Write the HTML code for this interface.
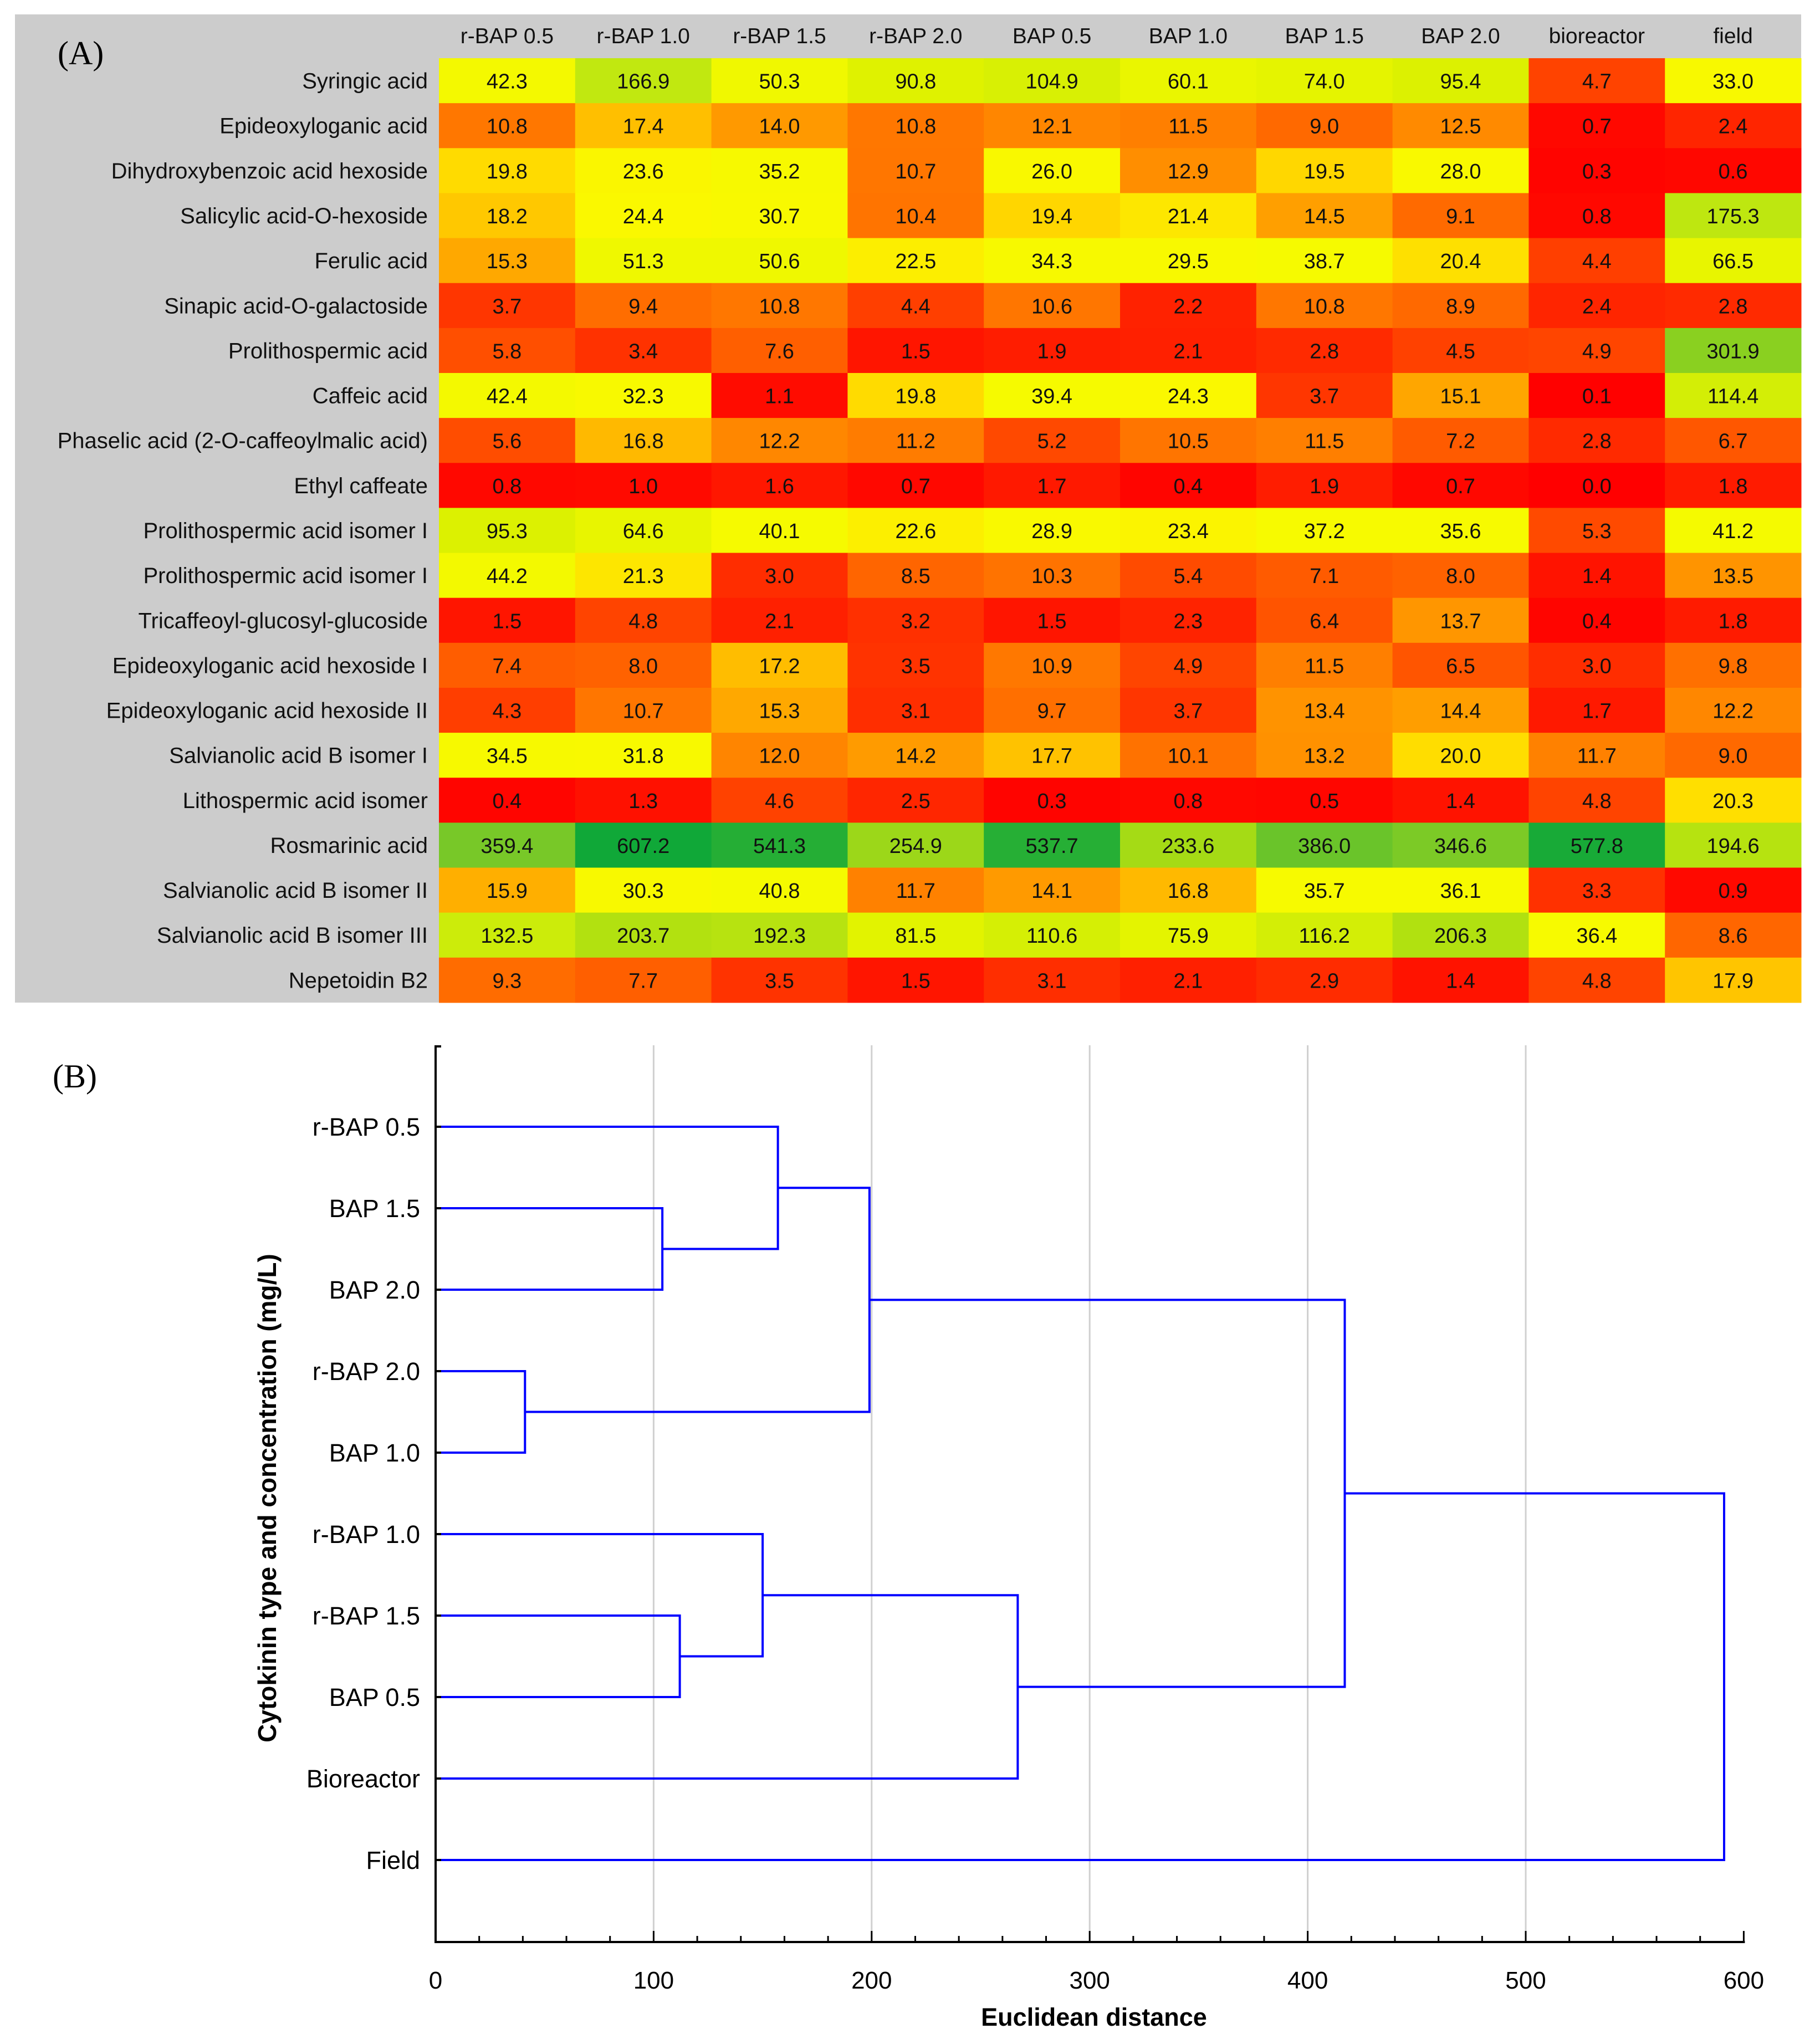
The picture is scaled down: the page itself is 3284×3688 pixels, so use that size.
<!DOCTYPE html>
<html><head><meta charset="utf-8"><style>
html,body{margin:0;padding:0;background:#fff;}
svg{display:block;font-family:"Liberation Sans",Arial,sans-serif;}
</style></head><body>
<svg id="fig" width="3284" height="3688" viewBox="0 0 3284 3688" xmlns="http://www.w3.org/2000/svg">
<rect x="27" y="26" width="3223" height="1783" fill="#cccccc"/>
<text x="104" y="116" font-family="Liberation Serif,serif" font-size="60" fill="#000">(A)</text>
<g id="heat"></g>
<text x="95" y="1962" font-family="Liberation Serif,serif" font-size="60" fill="#000">(B)</text>
<g id="grid"></g>
<g id="dendro"></g>
<g id="axes"></g>
<text transform="translate(498,2703) rotate(-90)" text-anchor="middle" font-size="46" font-weight="bold" fill="#000">Cytokinin type and concentration (mg/L)</text>
<text x="1974" y="3655" text-anchor="middle" font-size="45" font-weight="bold" fill="#000">Euclidean distance</text>
</svg>
<script>
const columns = ["r-BAP 0.5","r-BAP 1.0","r-BAP 1.5","r-BAP 2.0","BAP 0.5","BAP 1.0","BAP 1.5","BAP 2.0","bioreactor","field"];
const compounds = ["Syringic acid","Epideoxyloganic acid","Dihydroxybenzoic acid hexoside","Salicylic acid-O-hexoside","Ferulic acid","Sinapic acid-O-galactoside","Prolithospermic acid","Caffeic acid","Phaselic acid (2-O-caffeoylmalic acid)","Ethyl caffeate","Prolithospermic acid isomer I","Prolithospermic acid isomer I","Tricaffeoyl-glucosyl-glucoside","Epideoxyloganic acid hexoside I","Epideoxyloganic acid hexoside II","Salvianolic acid B isomer I","Lithospermic acid isomer","Rosmarinic acid","Salvianolic acid B isomer II","Salvianolic acid B isomer III","Nepetoidin B2"];
const values = [
[42.3,166.9,50.3,90.8,104.9,60.1,74.0,95.4,4.7,33.0],
[10.8,17.4,14.0,10.8,12.1,11.5,9.0,12.5,0.7,2.4],
[19.8,23.6,35.2,10.7,26.0,12.9,19.5,28.0,0.3,0.6],
[18.2,24.4,30.7,10.4,19.4,21.4,14.5,9.1,0.8,175.3],
[15.3,51.3,50.6,22.5,34.3,29.5,38.7,20.4,4.4,66.5],
[3.7,9.4,10.8,4.4,10.6,2.2,10.8,8.9,2.4,2.8],
[5.8,3.4,7.6,1.5,1.9,2.1,2.8,4.5,4.9,301.9],
[42.4,32.3,1.1,19.8,39.4,24.3,3.7,15.1,0.1,114.4],
[5.6,16.8,12.2,11.2,5.2,10.5,11.5,7.2,2.8,6.7],
[0.8,1.0,1.6,0.7,1.7,0.4,1.9,0.7,0.0,1.8],
[95.3,64.6,40.1,22.6,28.9,23.4,37.2,35.6,5.3,41.2],
[44.2,21.3,3.0,8.5,10.3,5.4,7.1,8.0,1.4,13.5],
[1.5,4.8,2.1,3.2,1.5,2.3,6.4,13.7,0.4,1.8],
[7.4,8.0,17.2,3.5,10.9,4.9,11.5,6.5,3.0,9.8],
[4.3,10.7,15.3,3.1,9.7,3.7,13.4,14.4,1.7,12.2],
[34.5,31.8,12.0,14.2,17.7,10.1,13.2,20.0,11.7,9.0],
[0.4,1.3,4.6,2.5,0.3,0.8,0.5,1.4,4.8,20.3],
[359.4,607.2,541.3,254.9,537.7,233.6,386.0,346.6,577.8,194.6],
[15.9,30.3,40.8,11.7,14.1,16.8,35.7,36.1,3.3,0.9],
[132.5,203.7,192.3,81.5,110.6,75.9,116.2,206.3,36.4,8.6],
[9.3,7.7,3.5,1.5,3.1,2.1,2.9,1.4,4.8,17.9]];
const leaves = ["r-BAP 0.5","BAP 1.5","BAP 2.0","r-BAP 2.0","BAP 1.0","r-BAP 1.0","r-BAP 1.5","BAP 0.5","Bioreactor","Field"];
const mergeA = [3,1,6,5,0,14,13,15,17];
const mergeB = [4,2,7,12,11,10,8,16,9];
const mergeH = [41,104,112,150,157,199,267,417,591];
const xTicks = [0,100,200,300,400,500,600];

const NS="http://www.w3.org/2000/svg";
function mk(tag,attrs,parent){const e=document.createElementNS(NS,tag);for(const k in attrs)e.setAttribute(k,attrs[k]);parent.appendChild(e);return e;}
const stops=[[0,[255,0,0]],[1,[255,10,0]],[3.5,[255,51,0]],[8.6,[255,102,0]],[10.8,[255,119,0]],[14,[255,153,0]],[17.5,[255,192,0]],[20,[255,221,0]],[24,[250,248,0]],[40,[246,250,0]],[90,[223,242,0]],[170,[192,232,16]],[210,[176,224,16]],[360,[120,200,40]],[600,[16,168,56]]];
function colorOf(v){const t=Math.log(v+1);for(let i=1;i<stops.length;i++){const a=Math.log(stops[i-1][0]+1),b=Math.log(stops[i][0]+1);if(t<=b||i===stops.length-1){const f=Math.max(0,Math.min(1,(t-a)/(b-a)));const c=stops[i-1][1].map((x,j)=>Math.round(x+(stops[i][1][j]-x)*f));return "rgb("+c.join(",")+")";}}}
// heatmap
const heat=document.getElementById('heat');
const hx0=792,hy0=105,cw=245.8,rh=81.14;
const hcol=i=>hx0+i*cw, hrow=j=>hy0+j*rh;
columns.forEach((c,i)=>{const t=mk('text',{x:hcol(i)+cw/2,y:78,'text-anchor':'middle','font-size':39,fill:'#111'},heat);t.textContent=c;

});
compounds.forEach((n,j)=>{const t=mk('text',{x:772,y:hrow(j)+rh/2+14,'text-anchor':'end','font-size':40,fill:'#111'},heat);t.textContent=n;


values[j].forEach((v,i)=>{const r=mk('rect',{x:hcol(i),y:hrow(j),width:cw+0.5,height:rh+0.5,fill:colorOf(v)},heat);


const tv=mk('text',{x:hcol(i)+cw/2,y:hrow(j)+rh/2+14,'text-anchor':'middle','font-size':38,fill:'#111'},heat);tv.textContent=v.toFixed(1);

});});
// dendrogram
const px0=786,pxs=3.934,py0=2033,pys=147,plotTop=1886,axisY=3504;
const X=d=>px0+d*pxs, Y=i=>py0+i*pys;
const grid=document.getElementById('grid'),dend=document.getElementById('dendro'),ax=document.getElementById('axes');
xTicks.forEach(t=>{if(t>0&&t<600){const l=mk('line',{x1:X(t),x2:X(t),y1:plotTop,y2:axisY,stroke:'#d0d0d0','stroke-width':3},grid);

}});
const pos=[],hgt=[];
leaves.forEach((n,i)=>{pos.push(Y(i));hgt.push(0);const t=mk('text',{x:758,y:Y(i)+16,'text-anchor':'end','font-size':45,fill:'#000'},ax);t.textContent=n;


mk('line',{x1:X(0),x2:X(0)+10,y1:Y(i),y2:Y(i),stroke:'#000','stroke-width':4},ax);});
mergeH.forEach((h,k)=>{const a=mergeA[k],b=mergeB[k];const p=mk('path',{d:`M${X(hgt[a])},${pos[a]}H${X(h)}V${pos[b]}H${X(hgt[b])}`,fill:'none',stroke:'#0000ff','stroke-width':4},dend);


pos.push((pos[a]+pos[b])/2);hgt.push(h);});
mk('line',{x1:X(0),x2:X(0),y1:plotTop,y2:axisY+2,stroke:'#000','stroke-width':4},ax);
mk('line',{x1:X(0),x2:X(0)+10,y1:plotTop+2,y2:plotTop+2,stroke:'#000','stroke-width':4},ax);
mk('line',{x1:X(0)-2,x2:X(600)+2,y1:axisY,y2:axisY,stroke:'#000','stroke-width':4},ax);
for(let t=0;t<=600;t+=20){const major=t%100===0;mk('line',{x1:X(t),x2:X(t),y1:axisY,y2:axisY-(major?20:11),stroke:'#000','stroke-width':3},ax);}
xTicks.forEach(t=>{const l=mk('text',{x:X(t),y:3588,'text-anchor':'middle','font-size':44,fill:'#000'},ax);l.textContent=t;

});
</script>
</body></html>
